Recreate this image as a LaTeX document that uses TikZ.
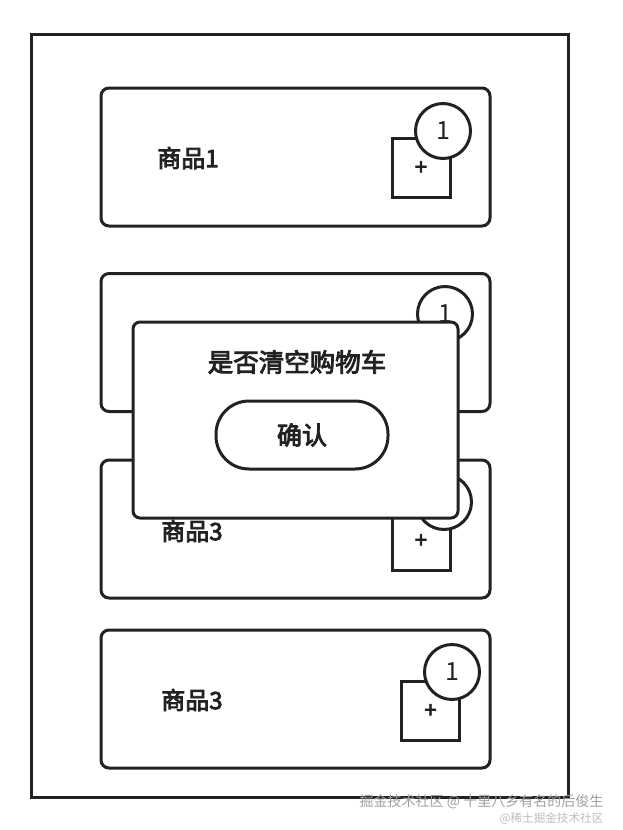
\documentclass[tikz,border=0pt]{standalone}
\usepackage{fontspec}
\newfontfamily\cjk{Noto Sans CJK SC}
\newfontfamily\cjkmid{Noto Sans CJK SC}[FakeBold=3.5]
\usetikzlibrary{positioning}
\definecolor{LineColor}{RGB}{34,34,36}
\definecolor{MarkColor}{RGB}{160,160,160}

\begin{document}
\begin{tikzpicture}[x=1pt, y=-1pt, line width=3pt, LineColor,
    card/.style={draw, fill=white, rounded corners=8pt, minimum width=389pt, minimum height=138pt},
    addbox/.style={draw, fill=white, minimum width=58pt, minimum height=59pt, font=\cjkmid\fontsize{22}{22}\selectfont},
    badge/.style={draw, fill=white, circle, minimum size=55pt, inner sep=0pt, font=\cjk\fontsize{25}{25}\selectfont},
    goods/.style={font=\cjkmid\fontsize{24}{26}\selectfont},
    popup/.style={draw, fill=white, rounded corners=7pt, minimum width=325pt, minimum height=196pt},
    okbtn/.style={draw, fill=white, rounded corners=33pt, minimum width=172pt, minimum height=68pt, font=\cjkmid\fontsize{25}{27}\selectfont},
    wmark/.style={MarkColor, font=\cjk\fontsize{14}{15}\selectfont}]
    \useasboundingbox (0,0) rectangle (622,830);
    % Screen
    \draw (31,34) rectangle (568,797);
    % Goods cards
    \node[card] (card1) at (295.5,157) {};
    \node[card] (card2) at (295.5,342.5) {};
    \node[card] (card3) at (295.5,529) {};
    \node[card] (card4) at (295.5,699) {};
    % Names
    \node[goods] (name1) at (188,158) {商品1};
    \node[goods] (name3) at (192,531) {商品3};
    \node[goods] (name4) at (192,700) {商品3};
    % Add buttons and counters
    \node[addbox] (add1) at (421,168) {+};
    \node[addbox] (add2) at (421,354) {+};
    \node[addbox] (add3) at (421,541) {+};
    \node[addbox] (add4) at (430.5,711) {+};
    \node[badge] (count1) at (443,131) {1};
    \node[badge] (count2) at (445,314) {1};
    \node[badge] (count3) at (444,502) {1};
    \node[badge] (count4) at (452,672) {1};
    % Dialog
    \node[popup] (dialog) at (295.5,420) {};
    \node[font=\cjkmid\fontsize{25.5}{27}\selectfont] (ask) at (297,362) {是否清空购物车};
    \node[okbtn] (ok) at (302,435) {确认};
    % Watermark
    \node[wmark] (mark1) at (481.5,802) {掘金技术社区 @ 十里八乡有名的后俊生};
    \node[wmark, font=\cjk\fontsize{11.6}{13}\selectfont, MarkColor!70] (mark2) at (551.5,819) {@稀土掘金技术社区};
\end{tikzpicture}
\end{document}
